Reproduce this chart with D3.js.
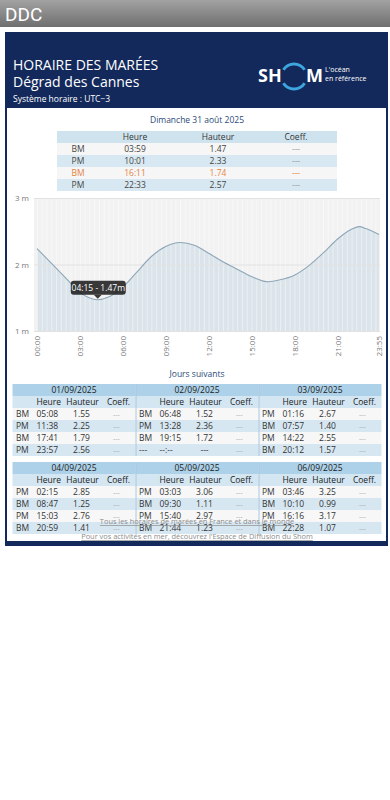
<!DOCTYPE html>
<html>
<head>
<meta charset="utf-8">
<script src="https://cdn.jsdelivr.net/npm/d3@7"></script>
<style>
  html, body { margin: 0; padding: 0; background: #fff; }
  svg { display: block; font-family: "Open Sans", sans-serif; }
</style>
</head>
<body>
<svg id="page" width="390" height="800"></svg>
<script>
// tide curve of 31/08/2025
var tideTimes = ["00:00", "01:00", "02:00", "03:00", "04:15", "05:00", "06:00", "07:00", "08:00",
  "09:00", "10:01", "11:00", "12:00", "13:00", "14:00", "15:00", "16:11", "17:00", "18:00",
  "19:00", "20:00", "21:00", "22:00", "22:33", "23:00", "23:55"];
var tideHeights = [2.24, 2.02, 1.80, 1.58, 1.47, 1.51, 1.66, 1.89, 2.12,
  2.27, 2.33, 2.29, 2.17, 2.04, 1.93, 1.82, 1.74, 1.77, 1.84,
  1.98, 2.17, 2.38, 2.53, 2.57, 2.54, 2.45];
var yTicks = [1, 2, 3];
var xTickLabels = ["00:00", "03:00", "06:00", "09:00", "12:00", "15:00", "18:00", "21:00", "23:55"];
var tipTime = "04:15";
var tipHeight = 1.47;

// today table
var todayTitle = "Dimanche 31 août 2025";
var todayTypes = ["BM", "PM", "BM", "PM"];
var todayHours = ["03:59", "10:01", "16:11", "22:33"];
var todayHeights = ["1.47", "2.33", "1.74", "2.57"];
var todayCoeffs = ["---", "---", "---", "---"];
var highlightRow = 2;

// next days
var nextDates = ["01/09/2025", "02/09/2025", "03/09/2025", "04/09/2025", "05/09/2025", "06/09/2025"];
var nextTypes = [
  ["BM", "PM", "BM", "PM"], ["BM", "PM", "BM", "---"], ["PM", "BM", "PM", "BM"],
  ["PM", "BM", "PM", "BM"], ["PM", "BM", "PM", "BM"], ["PM", "BM", "PM", "BM"]];
var nextHours = [
  ["05:08", "11:38", "17:41", "23:57"], ["06:48", "13:28", "19:15", "--:--"], ["01:16", "07:57", "14:22", "20:12"],
  ["02:15", "08:47", "15:03", "20:59"], ["03:03", "09:30", "15:40", "21:44"], ["03:46", "10:10", "16:16", "22:28"]];
var nextHeights = [
  ["1.55", "2.25", "1.79", "2.56"], ["1.52", "2.36", "1.72", "---"], ["2.67", "1.40", "2.55", "1.57"],
  ["2.85", "1.25", "2.76", "1.41"], ["3.06", "1.11", "2.97", "1.23"], ["3.25", "0.99", "3.17", "1.07"]];

var navy = "#13295b";
var svg = d3.select("#page");

// ---- top bar
var defs = svg.append("defs");
var grad = defs.append("linearGradient").attr("id", "bar").attr("x1", 0).attr("y1", 0).attr("x2", 0).attr("y2", 1);
grad.append("stop").attr("offset", 0).attr("stop-color", "#a2a2a2");
grad.append("stop").attr("offset", 1).attr("stop-color", "#6f6f6f");
svg.append("rect").attr("x", 0).attr("y", 0).attr("width", 390).attr("height", 27).attr("fill", "url(#bar)");
svg.append("text").attr("x", 5).attr("y", 20.5).text("DDC")
  .style("font-family", "Roboto, sans-serif").style("font-size", "19px").attr("fill", "#fff");

// ---- frame
svg.append("rect").attr("x", 5).attr("y", 32).attr("width", 383).attr("height", 514).attr("fill", navy);
svg.append("rect").attr("x", 7).attr("y", 108).attr("width", 379).attr("height", 433).attr("fill", "#fff");

svg.append("text").attr("x", 13).attr("y", 70).text("HORAIRE DES MARÉES")
  .style("font-size", "14px").attr("fill", "#fff");
svg.append("text").attr("x", 13).attr("y", 87).text("Dégrad des Cannes")
  .style("font-size", "14px").attr("fill", "#fff");
svg.append("text").attr("x", 13).attr("y", 102).text("Système horaire : UTC−3")
  .style("font-size", "8.5px").attr("fill", "#fff");

// SHOM logo
var logo = svg.append("g");
var ring = d3.arc().innerRadius(11).outerRadius(14);
logo.append("path").attr("transform", "translate(294,76.5)")
  .attr("d", ring({ startAngle: -Math.PI * 0.32, endAngle: Math.PI * 0.32 })).attr("fill", "#3ea6de");
logo.append("path").attr("transform", "translate(294,76.5)")
  .attr("d", ring({ startAngle: Math.PI * 0.68, endAngle: Math.PI * 1.32 })).attr("fill", "#3ea6de");
logo.append("text").attr("x", 258).attr("y", 82).text("SH")
  .style("font-size", "18px").style("font-weight", "bold").attr("fill", "#fff");
logo.append("text").attr("x", 306).attr("y", 82).text("M")
  .style("font-size", "18px").style("font-weight", "bold").attr("fill", "#fff");
logo.append("text").attr("x", 325).attr("y", 72).text("L'océan")
  .style("font-size", "7px").attr("fill", "#fff");
logo.append("text").attr("x", 325).attr("y", 80.5).text("en référence")
  .style("font-size", "7px").attr("fill", "#fff");

// ---- today table
svg.append("text").attr("x", 197).attr("y", 123).attr("text-anchor", "middle").text(todayTitle)
  .style("font-size", "8.5px").attr("fill", "#2b4a78");

var tX = 57, tW = 280, tTop = 131, rowH = 12;
var todayCols = [78, 135, 218, 296];
svg.append("rect").attr("x", tX).attr("y", tTop).attr("width", tW).attr("height", rowH).attr("fill", "#cfe3ef");
["", "Heure", "Hauteur", "Coeff."].forEach((h, i) => {
  svg.append("text").attr("x", todayCols[i]).attr("y", tTop + 9).attr("text-anchor", "middle").text(h)
    .style("font-size", "8.5px").attr("fill", "#333");
});
todayTypes.forEach((t, r) => {
  var y = tTop + rowH * (r + 1);
  svg.append("rect").attr("x", tX).attr("y", y).attr("width", tW).attr("height", rowH)
    .attr("fill", r % 2 == 0 ? "#f6f6f6" : "#d8e8f2");
  var c = r == highlightRow ? "#e5833f" : "#444";
  var vals = [t, todayHours[r], todayHeights[r], todayCoeffs[r]];
  vals.forEach((v, i) => {
    svg.append("text").attr("x", todayCols[i]).attr("y", y + 9).attr("text-anchor", "middle").text(v)
      .style("font-size", "8.5px").attr("fill", i == 3 && r != highlightRow ? "#999" : c);
  });
});

// ---- chart
var parseT = d3.timeParse("%H:%M");
var tide = tideTimes.map((t, i) => ({ t: parseT(t), h: tideHeights[i] }));
var x = d3.scaleTime().domain([parseT("00:00"), parseT("23:55")]).range([37, 379]);
var y = d3.scaleLinear().domain([1, 3]).range([331, 198]);

var plot = svg.append("g");
plot.append("rect").attr("x", 34).attr("y", y(3)).attr("width", 346).attr("height", y(1) - y(3)).attr("fill", "#f2f2f2");

plot.append("path").datum(tide)
  .attr("d", d3.area().x(d => x(d.t)).y0(y(1)).y1(d => y(d.h)).curve(d3.curveMonotoneX))
  .attr("fill", "#dbe4ea");

// faint vertical stripes
plot.selectAll(".stripe").data(x.ticks(d3.timeMinute.every(20)))
  .join("line").attr("class", "stripe")
  .attr("x1", d => x(d) + 0.5).attr("x2", d => x(d) + 0.5).attr("y1", y(3)).attr("y2", y(1))
  .attr("stroke", "#fff").attr("stroke-opacity", 0.45);

plot.selectAll(".grid").data(yTicks)
  .join("line").attr("class", "grid")
  .attr("x1", 34).attr("x2", 380).attr("y1", d => y(d) + 0.5).attr("y2", d => y(d) + 0.5)
  .attr("stroke", "#e2e2e2");

plot.append("path").datum(tide)
  .attr("d", d3.line().x(d => x(d.t)).y(d => y(d.h)).curve(d3.curveMonotoneX))
  .attr("fill", "none").attr("stroke", "#8ea6b7").attr("stroke-width", 1.1);

// axes
var yAxis = plot.append("g").attr("transform", "translate(32,0)")
  .call(d3.axisLeft(y).tickValues(yTicks).tickSize(0).tickFormat(d => d + " m"));
yAxis.select(".domain").remove();
yAxis.selectAll("text").style("font-size", "8px").style("font-family", "Open Sans, sans-serif").attr("fill", "#777");

var xAxis = plot.append("g").attr("transform", "translate(0,336)")
  .call(d3.axisBottom(x).tickValues(xTickLabels.map(parseT)).tickSize(0).tickFormat(d3.timeFormat("%H:%M")));
xAxis.select(".domain").remove();
xAxis.selectAll("text")
  .attr("transform", "rotate(-90)").attr("x", 0).attr("y", 0).attr("dy", "0.35em").attr("dx", 0)
  .attr("text-anchor", "end")
  .style("font-size", "8px").style("font-family", "Open Sans, sans-serif").attr("fill", "#777");

// tooltip
var tx = x(parseT(tipTime)), ty = y(tipHeight);
var tip = plot.append("g");
tip.append("rect").attr("x", tx - 27).attr("y", ty - 19).attr("width", 55).attr("height", 14).attr("rx", 3)
  .attr("fill", "#1e1e1e").attr("fill-opacity", 0.88);
tip.append("path").attr("d", `M${tx - 4},${ty - 5}L${tx + 4},${ty - 5}L${tx},${ty - 1}Z`)
  .attr("fill", "#1e1e1e").attr("fill-opacity", 0.88);
tip.append("text").attr("x", tx + 0.5).attr("y", ty - 9).attr("text-anchor", "middle")
  .text(tipTime + " - " + tipHeight + "m").style("font-size", "8.5px").attr("fill", "#fff");

// ---- next days
svg.append("text").attr("x", 197).attr("y", 377).attr("text-anchor", "middle").text("Jours suivants")
  .style("font-size", "8.5px").attr("fill", "#2b4a78");

var bW = 123;
nextDates.forEach((date, i) => {
  var bx = 12.5 + (i % 3) * bW;
  var by = i < 3 ? 384 : 462;
  var g = svg.append("g");
  g.append("rect").attr("x", bx).attr("y", by).attr("width", bW).attr("height", 12).attr("fill", "#acd1e8");
  g.append("rect").attr("x", bx).attr("y", by + 12).attr("width", bW).attr("height", 12).attr("fill", "#d3e6f2");
  g.append("text").attr("x", bx + bW / 2).attr("y", by + 9).attr("text-anchor", "middle").text(date)
    .style("font-size", "8.5px").attr("fill", "#222");
  g.append("text").attr("x", bx + 24).attr("y", by + 21).text("Heure").style("font-size", "8.5px").attr("fill", "#222");
  g.append("text").attr("x", bx + 70).attr("y", by + 21).attr("text-anchor", "middle").text("Hauteur")
    .style("font-size", "8.5px").attr("fill", "#222");
  g.append("text").attr("x", bx + 106).attr("y", by + 21).attr("text-anchor", "middle").text("Coeff.")
    .style("font-size", "8.5px").attr("fill", "#222");
  nextTypes[i].forEach((t, r) => {
    var ry = by + 24 + r * rowH;
    g.append("rect").attr("x", bx).attr("y", ry).attr("width", bW).attr("height", rowH)
      .attr("fill", r % 2 == 0 ? "#f7f7f7" : "#d7e7f2");
    g.append("text").attr("x", bx + 3.5).attr("y", ry + 9).text(t).style("font-size", "8.5px").attr("fill", "#333");
    g.append("text").attr("x", bx + 24).attr("y", ry + 9).text(nextHours[i][r]).style("font-size", "8.5px").attr("fill", "#333");
    g.append("text").attr("x", bx + 69).attr("y", ry + 9).attr("text-anchor", "middle").text(nextHeights[i][r])
      .style("font-size", "8.5px").attr("fill", "#333");
    g.append("text").attr("x", bx + 104).attr("y", ry + 9).attr("text-anchor", "middle").text("---")
      .style("font-size", "7px").attr("fill", "#aaa");
  });
  if (i % 3 > 0) {
    g.append("line").attr("x1", bx + 0.5).attr("x2", bx + 0.5).attr("y1", by).attr("y2", by + 72)
      .attr("stroke", "#a9c7dc");
  }
});

// ---- links (overlapping the tables, as in the page)
function link(txt, yy) {
  var t = svg.append("text").attr("x", 197).attr("y", yy).attr("text-anchor", "middle").text(txt)
    .style("font-size", "7.4px").attr("fill", "#8c8c8c");
  var w = t.node().getComputedTextLength();
  svg.append("line").attr("x1", 197 - w / 2).attr("x2", 197 + w / 2).attr("y1", yy + 1.5).attr("y2", yy + 1.5)
    .attr("stroke", "#8c8c8c").attr("stroke-width", 0.7);
}
link("Tous les horaires de marées en France et dans le monde", 524);
link("Pour vos activités en mer, découvrez l'Espace de Diffusion du Shom", 539);
</script>
</body>
</html>
